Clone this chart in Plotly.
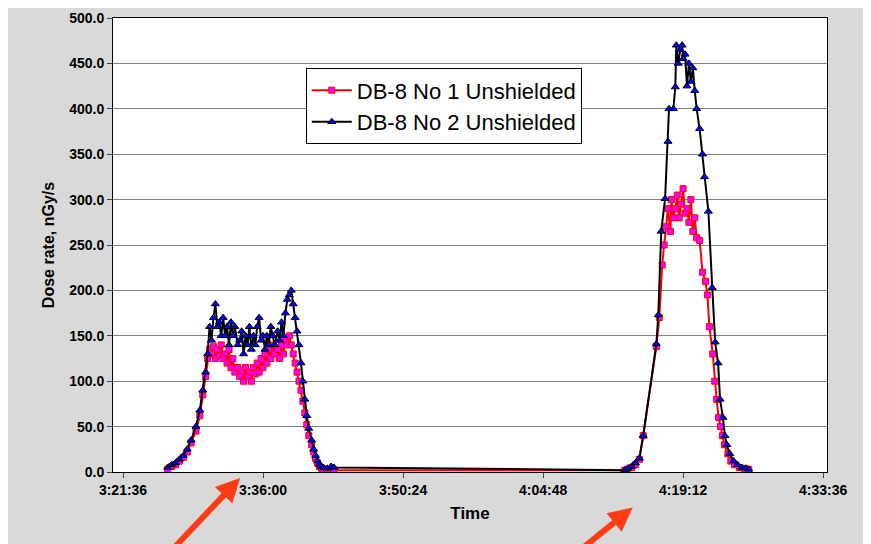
import plotly.graph_objects as go

# time in minutes after 3:00:00
t_left = [26.2, 26.6, 27.0, 27.4, 27.8, 28.2, 28.6, 29.1, 29.5, 29.8, 30.1, 30.3, 30.5, 30.7, 30.9,
          31.1, 31.3, 31.5, 31.7, 31.9, 32.1, 32.3, 32.5, 32.7, 32.9, 33.1, 33.4, 33.6, 33.8, 34.0,
          34.2, 34.4, 34.6, 34.8, 35.0, 35.2, 35.4, 35.6, 35.8, 36.0, 36.2, 36.4, 36.6, 36.8, 37.0,
          37.2, 37.5, 37.7, 37.9, 38.1, 38.3, 38.5, 38.7, 38.9, 39.1, 39.3, 39.5, 39.7,
          39.9, 40.1, 40.3, 40.5, 40.7, 41.0, 41.2, 41.4, 41.6, 41.8, 42.0, 42.2, 42.6, 43.0, 43.3]
no2_left = [5, 8, 10, 14, 18, 25, 35, 50, 68, 90, 110, 130, 160, 145, 170,
            185, 160, 165, 150, 170, 150, 160, 140, 165, 150, 160, 140, 145, 155, 130,
            150, 140, 160, 135, 150, 140, 160, 170, 145, 150, 135, 150, 140, 160, 150,
            140, 155, 145, 165, 150, 175, 190, 195, 200, 185, 170, 155, 140,
            120, 100, 80, 62, 48, 35, 25, 18, 12, 8, 6, 5, 4, 6, 5]
no1_left = [3, 6, 8, 12, 16, 22, 32, 45, 62, 85, 105, 125, 135, 130, 138,
            125, 135, 128, 140, 125, 130, 120, 135, 115, 125, 110, 115, 105, 112, 100,
            115, 105, 110, 100, 115, 108, 120, 110, 125, 115, 130, 120, 135, 125, 140,
            130, 135, 125, 140, 130, 145, 140, 150, 140, 130, 120, 110, 100,
            90, 78, 65, 52, 40, 30, 22, 15, 10, 6, 4, 3, 3, 2, 2]

t_right_no2 = [73.2, 73.5, 73.9, 74.3, 74.7, 75.1, 76.45, 76.65, 76.95, 77.35, 77.65, 77.75, 78.2,
               78.4, 78.5, 78.7, 78.9, 79.1, 79.2, 79.4, 79.6, 79.8, 80.0, 80.2, 80.4,
               80.6, 80.9, 81.2, 81.4, 81.8, 82.2, 82.5, 82.8, 83.0, 83.3, 83.5, 83.7, 84.0,
               84.4, 84.8, 85.25, 85.65, 85.95]
no2_right = [2, 4, 6, 10, 15, 40, 141, 173, 265, 301, 364, 400, 400, 424, 470, 450, 465, 470, 455,
             460, 425, 450, 430, 445, 420, 400, 378, 350, 325, 287, 203, 143, 120, 80, 60, 40, 30,
             20, 12, 8, 5, 4, 3]
t_right_no1 = [73.2, 73.5, 73.9, 74.3, 74.7, 75.1, 76.45, 76.75, 77.05, 77.25, 77.45, 77.65, 77.9,
               78.0, 78.2, 78.4, 78.6, 78.8, 79.0, 79.2, 79.4, 79.6, 79.8, 80.0, 80.2,
               80.4, 80.6, 80.9, 81.2, 81.5, 81.7, 81.9, 82.25, 82.45, 82.65, 82.85, 83.05,
               83.25, 83.45, 83.8, 84.1, 84.5, 85.0, 85.5, 85.95]
no1_right = [2, 3, 5, 8, 14, 40, 138, 170, 228, 250, 270, 290, 265, 300, 280, 290, 305, 280, 295,
             312, 285, 290, 275, 300, 265, 280, 258, 255, 220, 210, 195, 160, 130, 100, 80, 60, 50,
             40, 30, 20, 12, 8, 5, 4, 3]

tick_vals = [21.6, 36.0, 50.4, 64.8, 79.2, 93.6]
tick_text = ["3:21:36", "3:36:00", "3:50:24", "4:04:48", "4:19:12", "4:33:36"]

fig = go.Figure()
fig.add_trace(go.Scatter(
    x=t_left + t_right_no1, y=no1_left + no1_right, mode="lines+markers",
    name="DB-8 No 1 Unshielded",
    line=dict(color="#ff0000", width=2),
    marker=dict(symbol="square", size=6, color="#ff00ff", line=dict(color="#ff0000", width=1))))
fig.add_trace(go.Scatter(
    x=t_left + t_right_no2, y=no2_left + no2_right, mode="lines+markers",
    name="DB-8 No 2 Unshielded",
    line=dict(color="#000000", width=2),
    marker=dict(symbol="triangle-up", size=7, color="#0000ff", line=dict(color="#000000", width=1))))

arrow = dict(xref="paper", yref="paper", text="", showarrow=True, arrowhead=2,
             arrowsize=0.8, arrowwidth=6, arrowcolor="#ff3c14", axref="pixel", ayref="pixel")
fig.add_annotation(x=0.178, y=-0.013, ax=-70, ay=75, **arrow)
fig.add_annotation(x=0.728, y=-0.078, ax=-55, ay=55, **arrow)

fig.update_layout(
    width=871, height=544,
    margin=dict(l=105, r=52, t=10, b=80, autoexpand=False),
    paper_bgcolor="#d9d9d9", plot_bgcolor="white",
    font=dict(family="Arial, Liberation Sans", size=13, color="black"),
    legend=dict(x=0.27, y=0.889, xanchor="left", yanchor="top",
                bgcolor="white", bordercolor="black", borderwidth=1,
                font=dict(size=22, family="Arial, Liberation Sans"), tracegroupgap=14,
                itemwidth=40),
    showlegend=True,
)
fig.update_xaxes(range=[20.57, 94.0], tickvals=tick_vals, ticktext=tick_text, automargin=False,
                 tickfont=dict(size=14, weight="bold"), showgrid=False, zeroline=False,
                 showline=True, linecolor="black", mirror=True, ticks="outside", ticklen=5,
                 ticklabeloverflow="allow",
                 title=dict(text="<b>Time</b>", font=dict(size=17), standoff=10))
fig.update_yaxes(range=[0, 500], dtick=50, tickformat=".1f", automargin=False,
                 tickfont=dict(size=14, weight="bold"), showgrid=True, gridcolor="#808080",
                 zeroline=False, showline=True, linecolor="black", mirror=True,
                 ticks="outside", ticklen=5, ticklabeloverflow="allow",
                 title=dict(text="<b>Dose rate, nGy/s</b>", font=dict(size=16), standoff=10))

fig.write_html("out.html")
